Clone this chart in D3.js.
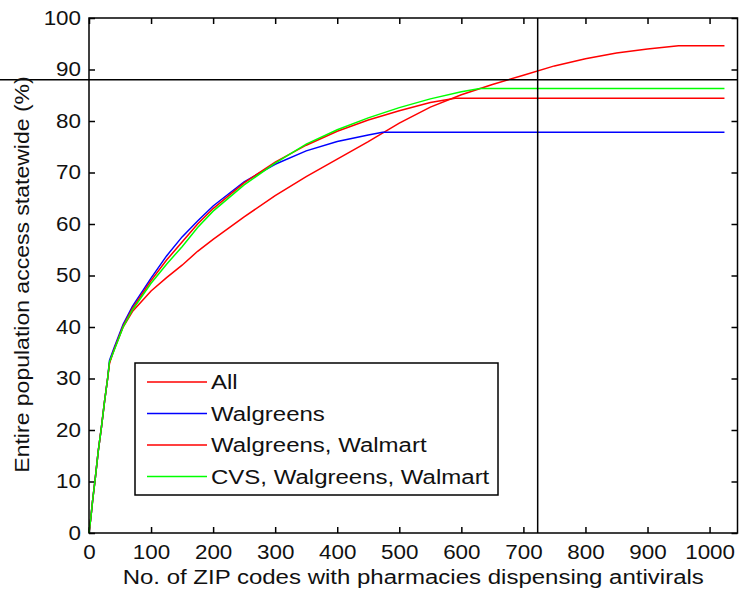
<!DOCTYPE html>
<html>
<head>
<meta charset="utf-8">
<script src="https://cdn.jsdelivr.net/npm/d3@7"></script>
<style>
  body { margin: 0; background: #fff; }
  svg { display: block; font-family: "Liberation Sans", Arial, sans-serif; }
</style>
</head>
<body>
<div class="chart"></div>
<script>
const width = 739;
const height = 596;
const margin = {top: 18, right: 1.5, bottom: 63, left: 89};

// ZIP code counts (x) and access % (y)
const xAll = [0, 3, 6, 10, 15, 20, 25, 30, 33, 40, 55, 70, 100, 125, 150, 175, 200, 225, 250, 300, 350, 400, 450, 500, 550, 600, 650, 700, 750, 800, 850, 900, 950, 1024];
const yAll = [0, 3, 6.5, 10.5, 16, 20.5, 25.5, 30, 33, 35.5, 40, 43, 47, 49.6, 52, 54.7, 57, 59.2, 61.4, 65.5, 69.2, 72.6, 76, 79.6, 82.7, 85.1, 87.1, 88.9, 90.7, 92.1, 93.2, 94, 94.6, 94.6];

const xWalg = [0, 3, 6, 10, 15, 20, 25, 30, 33, 40, 55, 70, 100, 125, 150, 175, 200, 250, 300, 350, 400, 450, 473, 1024];
const yWalg = [0, 3, 6.5, 10.5, 16, 20.5, 25.5, 30, 33.5, 35.8, 40.5, 44, 49.5, 53.8, 57.5, 60.6, 63.5, 68.2, 71.6, 74.2, 76, 77.3, 77.8, 77.8];

const xWW = [0, 3, 6, 10, 15, 20, 25, 30, 33, 40, 55, 70, 100, 125, 150, 175, 200, 250, 300, 350, 400, 450, 500, 550, 590, 1024];
const yWW = [0, 3, 6.5, 10.5, 16, 20.5, 25.5, 30, 33, 35.5, 40.2, 43.6, 49, 53, 56.5, 60, 63, 68, 72, 75.3, 78, 80.2, 82, 83.6, 84.4, 84.4];

const xCVS = [0, 3, 6, 10, 15, 20, 25, 30, 33, 40, 55, 70, 100, 125, 150, 175, 200, 250, 300, 350, 400, 450, 500, 550, 600, 630, 1024];
const yCVS = [0, 3, 6.5, 10.5, 16, 20.5, 25.5, 30, 33.2, 35.3, 40, 43.3, 48.5, 52.2, 55.6, 59.3, 62.5, 67.6, 71.8, 75.5, 78.3, 80.6, 82.6, 84.3, 85.7, 86.3, 86.3];

const seriesNames = ["All", "Walgreens", "Walgreens, Walmart", "CVS, Walgreens, Walmart"];
const seriesColors = ["#ff0000", "#0000ff", "#ff0000", "#00ff00"];
const seriesX = [xAll, xWalg, xWW, xCVS];
const seriesY = [yAll, yWalg, yWW, yCVS];

const xTicks = [0, 100, 200, 300, 400, 500, 600, 700, 800, 900, 1000];
const yTicks = [0, 10, 20, 30, 40, 50, 60, 70, 80, 90, 100];

// cut-off lines
const refX = 723;
const refY = 88;

const xLabel = "No. of ZIP codes with pharmacies dispensing antivirals";
const yLabel = "Entire population access statewide (%)";

const iw = width - margin.left - margin.right;
const ih = height - margin.top - margin.bottom;

const x = d3.scaleLinear().domain([0, 1045]).range([0, iw]);
const y = d3.scaleLinear().domain([0, 100]).range([ih, 0]);

const svg = d3.select(".chart").append("svg")
	.attr("width", width)
	.attr("height", height);

const g = svg.append("g")
	.attr("transform", `translate(${margin.left},${margin.top})`);

// the original font is a little wider than Liberation Sans
function stretch(sel, k) {
	sel.each(function () {
		const len = this.getComputedTextLength();
		d3.select(this)
			.attr("textLength", len * k)
			.attr("lengthAdjust", "spacingAndGlyphs");
	});
}

// axes, ticks pointing inwards on all four sides
const fontSize = 20;
const tickLen = 6;

const axBottom = g.append("g")
	.attr("transform", `translate(0,${ih})`)
	.call(d3.axisBottom(x).tickValues(xTicks).tickFormat(d3.format("d")).tickSizeInner(-tickLen).tickSizeOuter(0).tickPadding(12));
const axTop = g.append("g")
	.call(d3.axisTop(x).tickValues(xTicks).tickSizeInner(-tickLen).tickSizeOuter(0).tickFormat(""));
const axLeft = g.append("g")
	.call(d3.axisLeft(y).tickValues(yTicks).tickSizeInner(-tickLen).tickSizeOuter(0).tickPadding(8));
const axRight = g.append("g")
	.attr("transform", `translate(${iw},0)`)
	.call(d3.axisRight(y).tickValues(yTicks).tickSizeInner(-tickLen).tickSizeOuter(0).tickFormat(""));

[axBottom, axTop, axLeft, axRight].forEach(a => {
	a.select(".domain").remove();
	a.selectAll(".tick line").attr("stroke", "#000").attr("stroke-width", 1.5);
	a.selectAll("text").attr("fill", "#111").style("font-size", fontSize + "px");
});
stretch(axBottom.selectAll("text"), 1.12);
stretch(axLeft.selectAll("text"), 1.12);

// series
const line = d3.line()
	.x(d => x(d[0]))
	.y(d => y(d[1]));

seriesNames.forEach((name, i) => {
	const pts = seriesX[i].map((v, j) => [v, seriesY[i][j]]);
	g.append("path")
		.datum(pts)
		.attr("fill", "none")
		.attr("stroke", seriesColors[i])
		.attr("stroke-width", 1.5)
		.attr("d", line);
});

// reference lines
g.append("line")
	.attr("x1", x(refX)).attr("x2", x(refX))
	.attr("y1", 0).attr("y2", ih)
	.attr("stroke", "#000").attr("stroke-width", 1.5);
g.append("line")
	.attr("x1", -margin.left).attr("x2", iw)
	.attr("y1", y(refY)).attr("y2", y(refY))
	.attr("stroke", "#000").attr("stroke-width", 1.5);

// frame
g.append("rect")
	.attr("width", iw).attr("height", ih)
	.attr("fill", "none")
	.attr("stroke", "#000").attr("stroke-width", 1.5);

// legend
const lg = g.append("g").attr("transform", `translate(${135 - margin.left},${363 - margin.top})`);
lg.append("rect")
	.attr("width", 363).attr("height", 132)
	.attr("fill", "#fff")
	.attr("stroke", "#000").attr("stroke-width", 1.5);
seriesNames.forEach((name, i) => {
	const ly = 19 + i * 31.5;
	lg.append("line")
		.attr("x1", 12).attr("x2", 72)
		.attr("y1", ly).attr("y2", ly)
		.attr("stroke", seriesColors[i]).attr("stroke-width", 1.5);
	lg.append("text")
		.attr("class", "legend-text")
		.attr("x", 76).attr("y", ly)
		.attr("dy", "0.35em")
		.attr("fill", "#111")
		.style("font-size", fontSize + "px")
		.text(name);
});
stretch(lg.selectAll(".legend-text"), 1.2);

// axis labels
const xl = svg.append("text")
	.attr("x", margin.left + iw / 2)
	.attr("y", 584)
	.attr("text-anchor", "middle")
	.attr("fill", "#111")
	.style("font-size", fontSize + "px")
	.text(xLabel);
stretch(xl, 1.2);

const yl = svg.append("text")
	.attr("transform", `translate(29,${margin.top + ih / 2 - 1}) rotate(-90)`)
	.attr("text-anchor", "middle")
	.attr("fill", "#111")
	.style("font-size", fontSize + "px")
	.text(yLabel);
stretch(yl, 1.15);
</script>
</body>
</html>
